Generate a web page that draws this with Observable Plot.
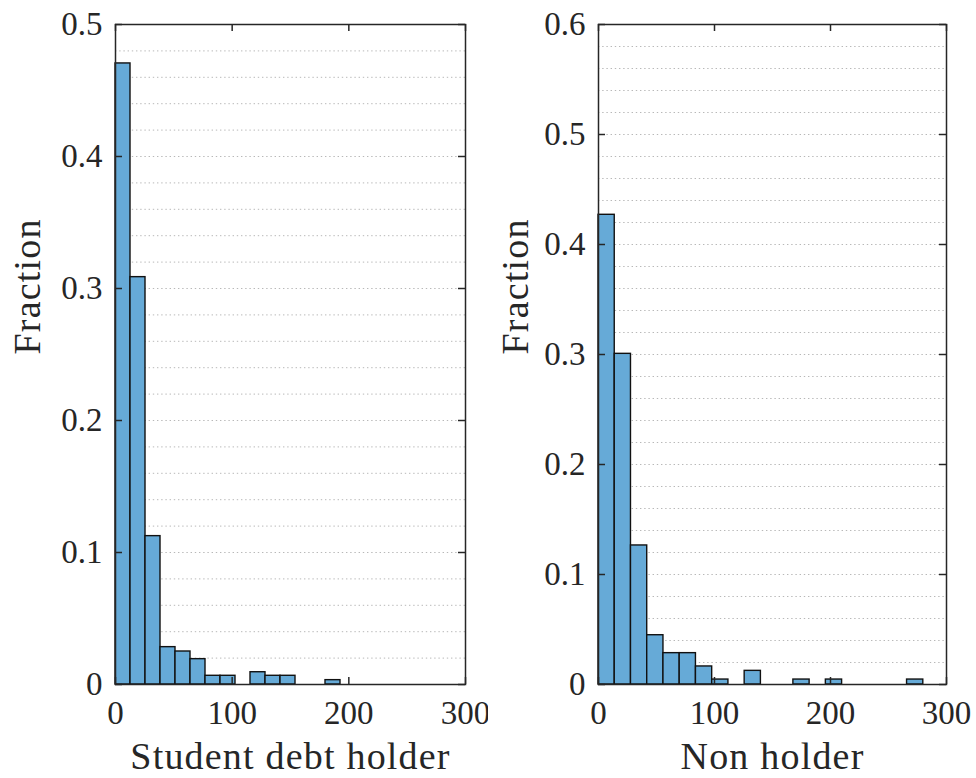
<!DOCTYPE html>
<html>
<head>
<meta charset="utf-8">
<script src="https://cdn.jsdelivr.net/npm/d3@7"></script>
<script src="https://cdn.jsdelivr.net/npm/@observablehq/plot@0.6"></script>
<style>
  html, body { margin: 0; padding: 0; background: #ffffff; }
  #wrap { position: relative; width: 976px; height: 778px; display: flex; }
  #wrap svg { margin: 0; }
</style>
</head>
<body>
<div id="wrap"></div>
<script>
// Histogram of debt (thousands) for student debt holders: fraction per bin
const holderBinWidth = 12.857;
const holderFraction = [0.4705, 0.3086, 0.1124, 0.0283, 0.0250, 0.0192, 0.0066, 0.0066,
                        0.0, 0.0093, 0.0066, 0.0066, 0.0, 0.0, 0.0033];

// Histogram for non holders: fraction per bin
const nonHolderBinWidth = 14;
const nonHolderFraction = [0.4270, 0.3006, 0.1264, 0.0448, 0.0285, 0.0285, 0.0164, 0.0045,
                           0.0, 0.0124, 0.0, 0.0, 0.0045, 0.0, 0.0045, 0.0, 0.0, 0.0, 0.0, 0.0045];

const xTicks = [0, 100, 200, 300];
const holderYTicks = [0, 0.1, 0.2, 0.3, 0.4, 0.5];
const nonHolderYTicks = [0, 0.1, 0.2, 0.3, 0.4, 0.5, 0.6];
const holderMinorGrid = [0.02, 0.04, 0.06, 0.08, 0.1, 0.12, 0.14, 0.16, 0.18, 0.2, 0.22, 0.24,
                         0.26, 0.28, 0.3, 0.32, 0.34, 0.36, 0.38, 0.4, 0.42, 0.44, 0.46, 0.48];
const nonHolderMinorGrid = [0.02, 0.04, 0.06, 0.08, 0.1, 0.12, 0.14, 0.16, 0.18, 0.2, 0.22, 0.24,
                            0.26, 0.28, 0.3, 0.32, 0.34, 0.36, 0.38, 0.4, 0.42, 0.44, 0.46, 0.48,
                            0.5, 0.52, 0.54, 0.56, 0.58];
const yTitle = "Fraction";

const AXIS = "#262626";
const FILL = "#66aad7";
const FONT = "Liberation Serif";

function bins(fractions, width) {
  return fractions.map((f, i) => ({x1: i * width, x2: (i + 1) * width, f}));
}

function panel({fractions, binWidth, yMax, yTicks, grid, xLabel, marginLeft, marginRight}) {
  const W = 488, H = 778, mt = 24, mb = 94;
  const innerW = W - marginLeft - marginRight;
  const innerH = H - mt - mb;
  const tick = 7;
  const svg = Plot.plot({
    width: W,
    height: H,
    marginLeft, marginRight, marginTop: mt, marginBottom: mb,
    style: {fontFamily: FONT, color: AXIS, background: "#ffffff", overflow: "visible"},
    x: {domain: [0, 300]},
    y: {domain: [0, yMax]},
    marks: [
      Plot.ruleY(grid, {stroke: "#b8b8b8", strokeWidth: 1, strokeDasharray: "1.4,2.8"}),
      Plot.rectY(bins(fractions, binWidth), {
        x1: "x1", x2: "x2", y: "f",
        fill: FILL, stroke: "#111111", strokeWidth: 1.4
      }),
      Plot.frame({stroke: AXIS, strokeWidth: 1.5}),
      // inward ticks on all four sides
      Plot.tickX(xTicks, {x: d => d, insetTop: innerH - tick, stroke: AXIS, strokeWidth: 1.5}),
      Plot.tickX(xTicks, {x: d => d, insetBottom: innerH - tick, stroke: AXIS, strokeWidth: 1.5}),
      Plot.tickY(yTicks, {y: d => d, insetRight: innerW - tick, stroke: AXIS, strokeWidth: 1.5}),
      Plot.tickY(yTicks, {y: d => d, insetLeft: innerW - tick, stroke: AXIS, strokeWidth: 1.5}),
      Plot.axisX(xTicks, {tickSize: 0, tickPadding: 16, fontSize: 33, fontFamily: FONT, label: null}),
      Plot.axisY(yTicks, {tickSize: 0, tickPadding: 13, fontSize: 33, fontFamily: FONT, label: null,
                          tickFormat: d => String(d)}),
      Plot.text([xLabel], {
        frameAnchor: "bottom", dy: 84, lineAnchor: "bottom",
        fontSize: 38, fontFamily: FONT, fill: AXIS
      }),
      Plot.text([yTitle], {
        frameAnchor: "left", dx: -(marginLeft - 27), rotate: -90, lineAnchor: "middle",
        fontSize: 38, fontFamily: FONT, fill: AXIS
      })
    ]
  });
  // slightly looser letter spacing for the two titles
  d3.select(svg).selectAll("text")
    .filter(function() { return this.textContent === xLabel || this.textContent === yTitle; })
    .attr("letter-spacing", "1.2");
  return svg;
}

const wrap = document.getElementById("wrap");
wrap.append(panel({
  fractions: holderFraction, binWidth: holderBinWidth, yMax: 0.5,
  yTicks: holderYTicks, grid: holderMinorGrid, xLabel: "Student debt holder",
  marginLeft: 115, marginRight: 23
}));
wrap.append(panel({
  fractions: nonHolderFraction, binWidth: nonHolderBinWidth, yMax: 0.6,
  yTicks: nonHolderYTicks, grid: nonHolderMinorGrid, xLabel: "Non holder",
  marginLeft: 110, marginRight: 30
}));
</script>
</body>
</html>
